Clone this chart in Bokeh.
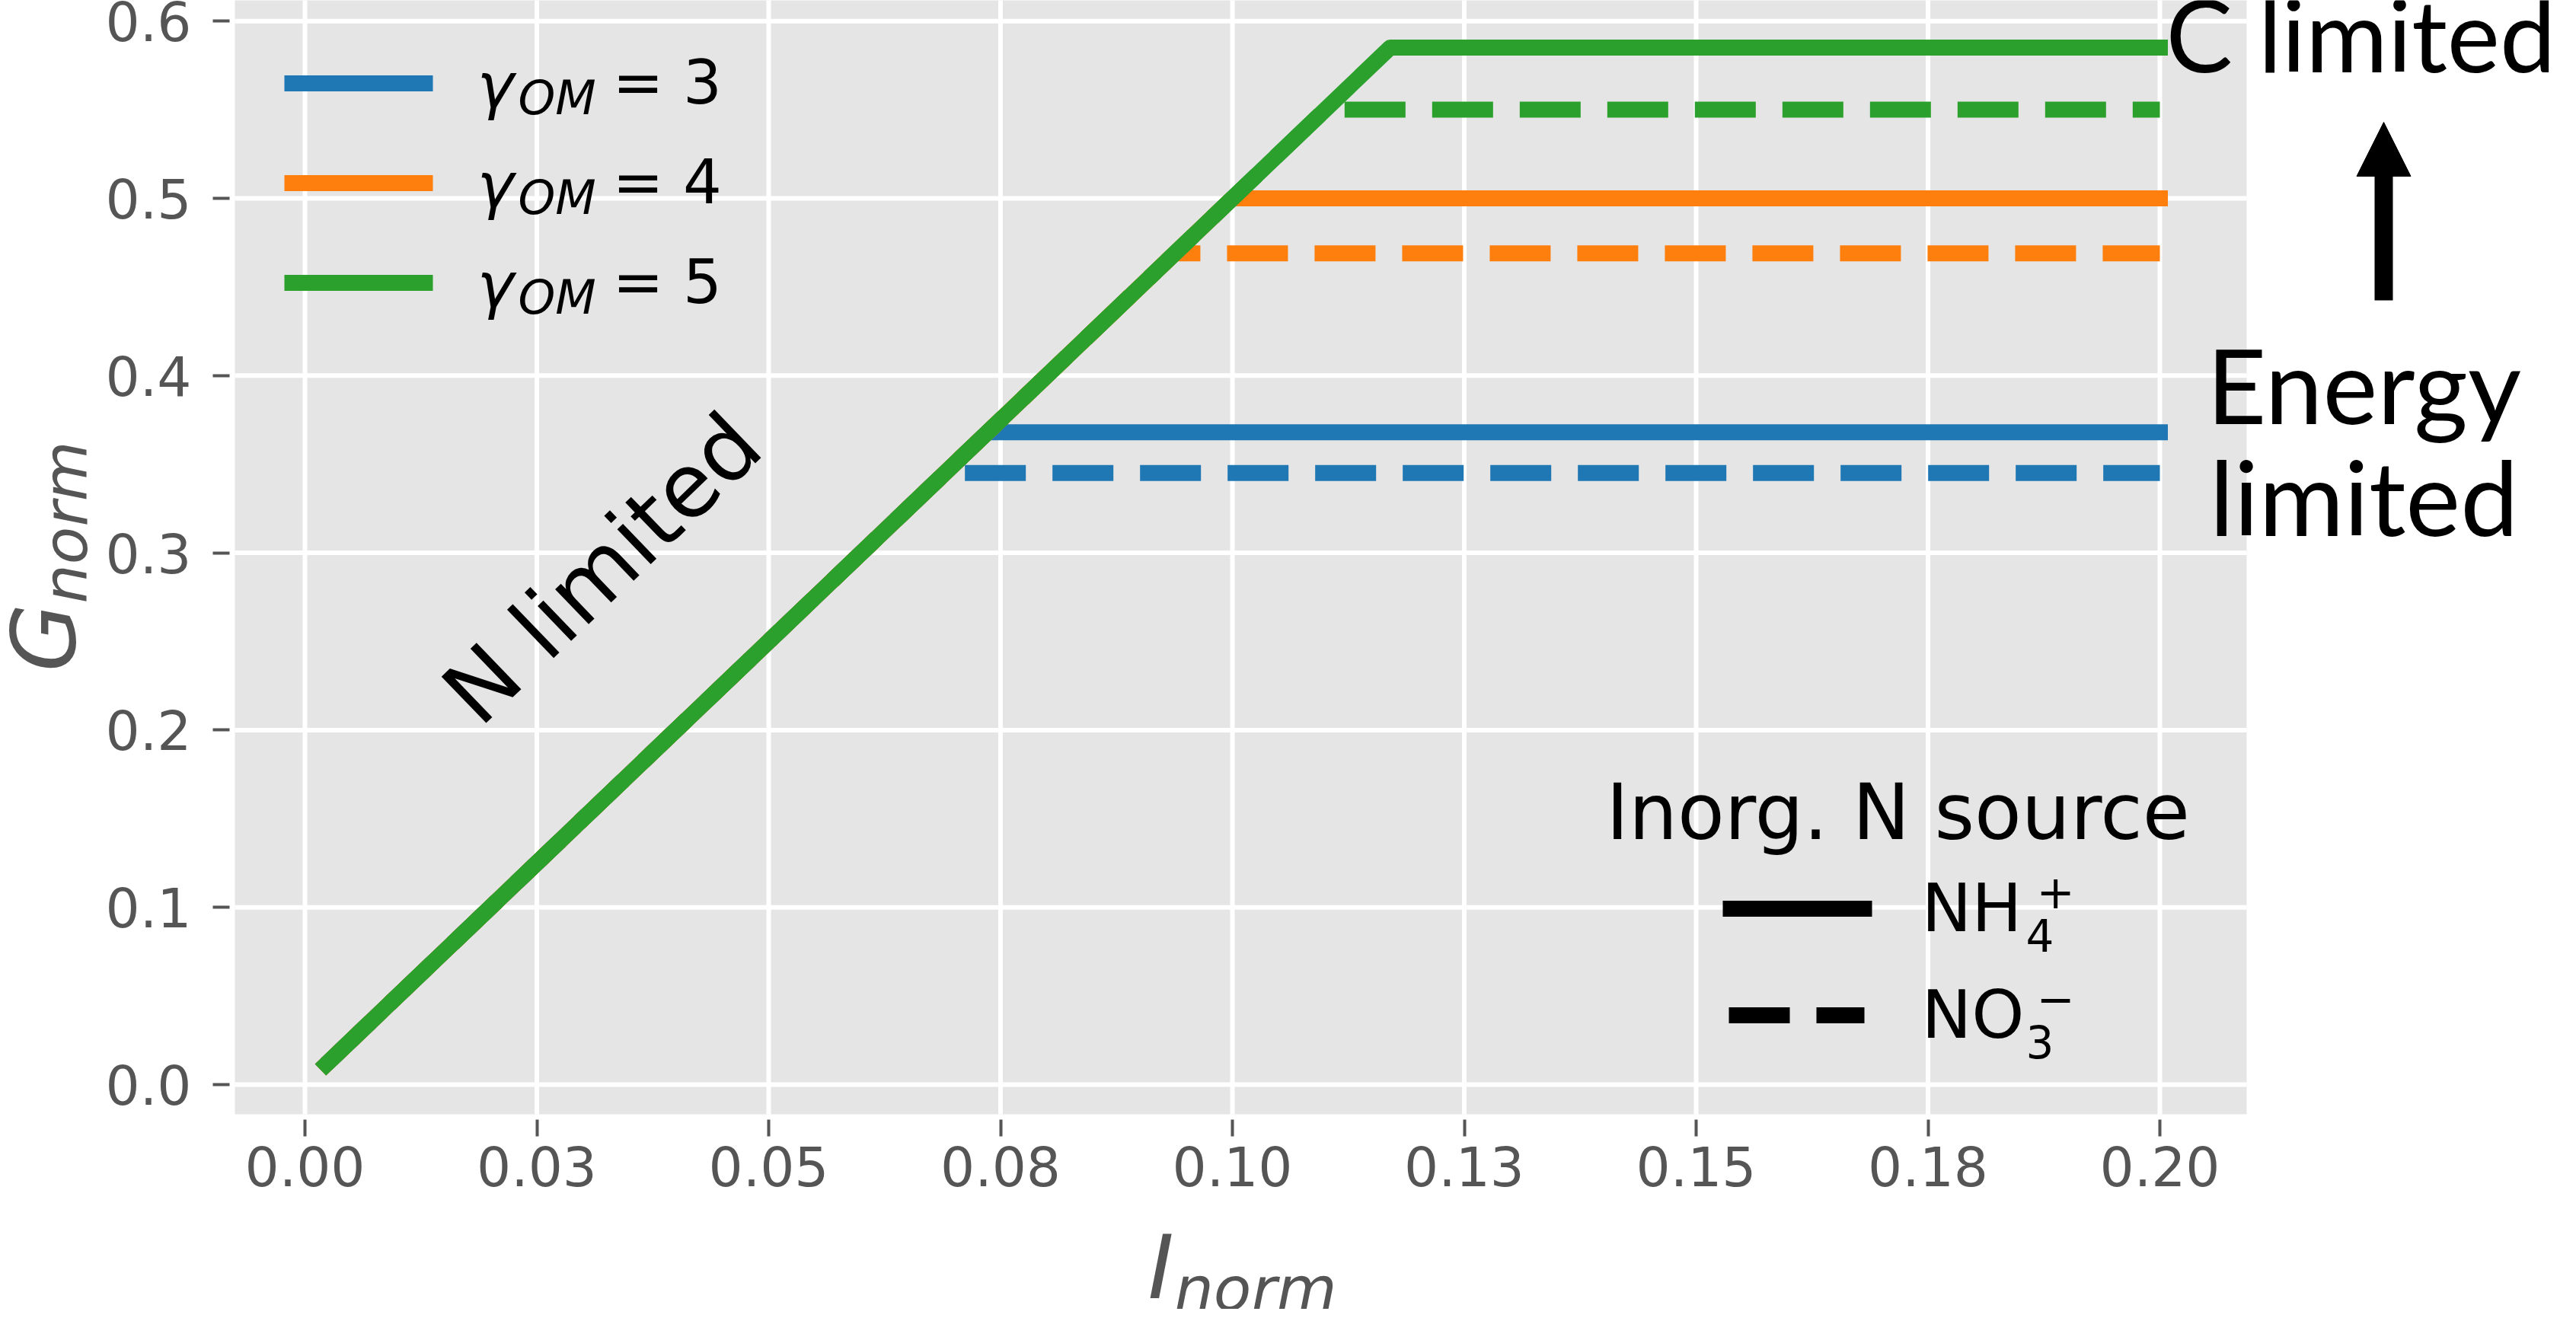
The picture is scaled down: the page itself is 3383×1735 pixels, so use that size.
import math
from bokeh.plotting import figure
from bokeh.models import Range1d, FixedTicker, Label, Arrow, NormalHead
from bokeh.embed import file_html
from bokeh.resources import INLINE

# ---------------- data ----------------
gamma_om = [3, 4, 5]
series_colors = ["#1f77b4", "#ff7f0e", "#2ca02c"]

# NH4+ (solid) : breakpoints of each curve (I_norm, G_norm)
nh4_I = [[0.0023, 0.0736, 0.2], [0.0023, 0.1000, 0.2], [0.0023, 0.1170, 0.2]]
nh4_G = [[0.0115, 0.368, 0.368], [0.0115, 0.500, 0.500], [0.0115, 0.585, 0.585]]
# NO3- (dashed)
no3_I = [[0.0023, 0.0690, 0.2], [0.0023, 0.0938, 0.2], [0.0023, 0.1100, 0.2]]
no3_G = [[0.0115, 0.345, 0.345], [0.0115, 0.469, 0.469], [0.0115, 0.550, 0.550]]

x_ticks = [0.0, 0.025, 0.05, 0.075, 0.1, 0.125, 0.15, 0.175, 0.2]
x_tick_labels = ["0.00", "0.03", "0.05", "0.08", "0.10", "0.13", "0.15", "0.18", "0.20"]
y_ticks = [0.0, 0.1, 0.2, 0.3, 0.4, 0.5, 0.6]
y_tick_labels = ["0.0", "0.1", "0.2", "0.3", "0.4", "0.5", "0.6"]

n_sources = [("NH", "4", "+"), ("NO", "3", "\u2212")]

# ---------------- page-pixel -> data helpers (layout only) ----------------
PX_X0, PX_PER_X = 408.0, 12180.0
PX_Y0, PX_PER_Y = 1432.0, 2328.0


def xd(px):
    return (px - PX_X0) / PX_PER_X


def yd(py):
    return (PX_Y0 - py) / PX_PER_Y


GREY = "#555555"
AX_LEFT, AX_RIGHT, AX_TOP, AX_BOTTOM = 316, 2958, 3, 1471

p = figure(width=3367, height=1719, output_backend="svg", toolbar_location=None,
           title=None,
           x_range=Range1d(xd(8), xd(3375)), y_range=Range1d(yd(1727), yd(8)),
           min_border_left=0, min_border_right=0, min_border_top=0,
           min_border_bottom=0)

p.background_fill_color = "white"
p.border_fill_color = "white"
p.outline_line_color = None
p.grid.visible = False

# axes drawn at the edges of the grey plotting area
p.xaxis.fixed_location = yd(AX_BOTTOM)
p.yaxis.fixed_location = xd(AX_LEFT)
p.xaxis.ticker = FixedTicker(ticks=x_ticks)
p.yaxis.ticker = FixedTicker(ticks=y_ticks)
p.xaxis.major_label_overrides = {t: l for t, l in zip(x_ticks, x_tick_labels)}
p.yaxis.major_label_overrides = {t: l for t, l in zip(y_ticks, y_tick_labels)}

for ax in (p.xaxis[0], p.yaxis[0]):
    ax.axis_line_color = None
    ax.major_tick_line_color = GREY
    ax.major_tick_line_width = 4
    ax.major_tick_in = -7
    ax.major_tick_out = 29
    ax.minor_tick_line_color = None
    ax.major_label_text_font = "DejaVu Sans"
    ax.major_label_text_font_size = "71px"
    ax.major_label_text_color = GREY
p.xaxis.major_label_standoff = 12
p.yaxis.major_label_standoff = 28

# grey panel + white grid
p.quad(left=[xd(AX_LEFT)], right=[xd(AX_RIGHT)], bottom=[yd(AX_BOTTOM)], top=[yd(AX_TOP)],
       fill_color="#E5E5E5", line_color=None)
p.segment(x0=x_ticks, y0=[yd(AX_BOTTOM)] * len(x_ticks), x1=x_ticks,
          y1=[yd(AX_TOP)] * len(x_ticks), line_color="white", line_width=6)
p.segment(x0=[xd(AX_LEFT)] * len(y_ticks), y0=y_ticks, x1=[xd(AX_RIGHT)] * len(y_ticks),
          y1=y_ticks, line_color="white", line_width=6)

# ---------------- data lines ----------------
for k in range(len(gamma_om)):
    p.line(nh4_I[k], nh4_G[k], line_color=series_colors[k], line_width=21,
           line_cap="square", line_join="round")
    p.line(no3_I[k], no3_G[k], line_color=series_colors[k], line_width=21,
           line_dash="80 35", line_cap="butt", line_join="round")


def lab(text, px, py, size, font="DejaVu Sans", style="normal", color="black",
        align="left", baseline="middle", angle=0.0):
    p.add_layout(Label(x=xd(px), y=yd(py), text=text, text_font=font,
                       text_font_size=f"{size}px", text_font_style=style,
                       text_color=color, text_align=align,
                       text_baseline=baseline, angle=angle))


# ---------------- legend 1: gamma_OM ----------------
for r, g in enumerate(gamma_om):
    hy = 117 + 131 * r
    cy = 116 + 131 * r
    p.line([xd(381), xd(576)], [yd(hy), yd(hy)], line_color=series_colors[r],
           line_width=21, line_cap="butt")
    lab("\u03b3", 634, cy + 4, 82, style="italic")
    lab("OM", 688, cy + 20, 62, style="italic")
    lab(f"= {g}", 812, cy, 80)

# ---------------- legend 2: inorganic N source ----------------
lab("Inorg. N source", 2500, 1074, 101, align="center")
p.line([xd(2270), xd(2466)], [yd(1201), yd(1201)], line_color="black",
       line_width=21, line_cap="butt")
p.line([xd(2278), xd(2456)], [yd(1341), yd(1341)], line_color="black",
       line_width=21, line_dash="80 35", line_cap="butt")
for r, (main, sub, sup) in enumerate(n_sources):
    c = 1200 + 140 * r
    lab(main, 2531, c, 88)
    lab(sub, 2668, c + 36, 58)
    lab(sup, 2682, c - 22, 60)

# ---------------- annotations ----------------
lab("N limited", 798, 754, 116, align="center", angle=math.radians(44))

lab("C limited", 3108, 52, 131, font="Lato", align="center")
lab("Energy", 3112, 512, 136, font="Lato", align="center")
lab("limited", 3112, 659, 136, font="Lato", align="center")
p.add_layout(Arrow(end=NormalHead(size=71, fill_color="black", line_color="black",
                                  line_width=1),
                   x_start=xd(3138), y_start=yd(402), x_end=xd(3138), y_end=yd(168),
                   line_color="black", line_width=24))

# ---------------- axis labels (math-style, italic with subscript) ----------------
lab("I", 1515, 1672, 116, style="italic", color=GREY)
lab("norm", 1550, 1700, 81, style="italic", color=GREY)
lab("G", 65, 890, 116, style="italic", color=GREY, angle=math.pi / 2)
lab("norm", 93, 800, 81, style="italic", color=GREY, angle=math.pi / 2)

open("out.html", "w").write(file_html(p, INLINE))
